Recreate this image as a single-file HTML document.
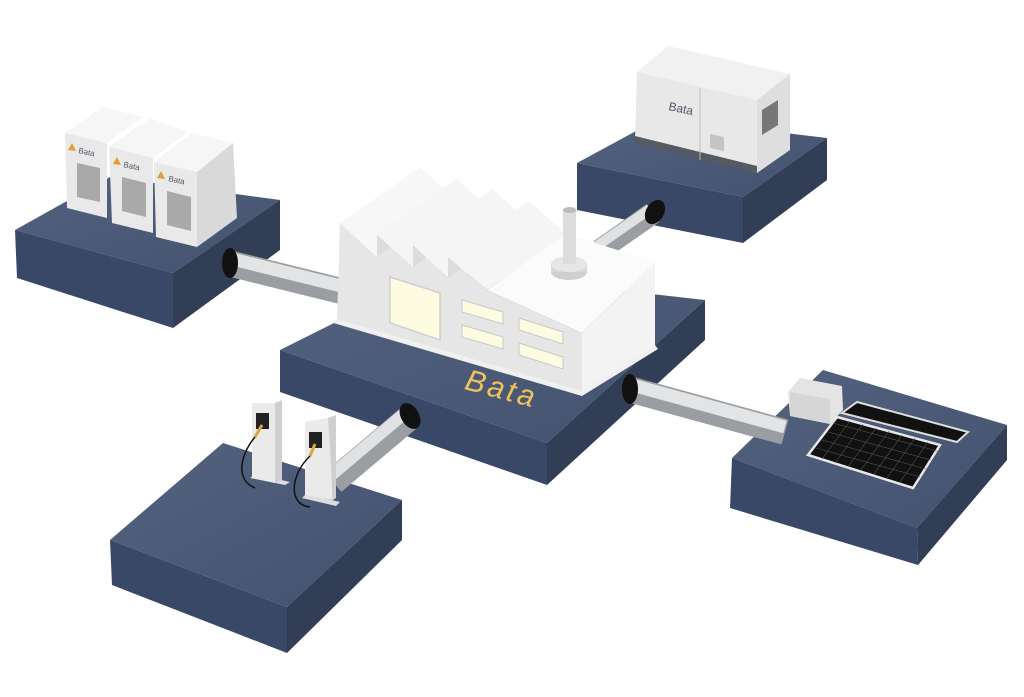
<!DOCTYPE html>
<html><head><meta charset="utf-8"><style>
html,body{margin:0;padding:0;background:#fff;}
svg{display:block}
</style></head><body>
<svg width="1024" height="697" viewBox="0 0 1024 697" xmlns="http://www.w3.org/2000/svg">
<defs>
<linearGradient id="top" x1="0" y1="0" x2="1" y2="1"><stop offset="0" stop-color="#53627f"/><stop offset="1" stop-color="#43526f"/></linearGradient>
</defs>
<!-- left platform -->
<polygon points="15,230 110,177 280,200 173,273" fill="url(#top)"/>
<polygon points="15,230 173,273 173,328 17,278" fill="#3a4868"/>
<polygon points="173,273 280,200 280,250 173,328" fill="#323d56"/>
<!-- top right platform -->
<polygon points="577,163 660,118 827,138 743,197" fill="url(#top)"/>
<polygon points="577,163 743,197 743,243 577,210" fill="#3a4868"/>
<polygon points="743,197 827,138 827,180 743,243" fill="#323d56"/>
<!-- bottom right platform -->
<polygon points="732,458 823,370 1007,425 917,528" fill="url(#top)"/>
<polygon points="732,458 917,528 918,565 730,508" fill="#3a4868"/>
<polygon points="917,528 1007,425 1007,460 918,565" fill="#323d56"/>
<!-- bottom left platform -->
<polygon points="110,540 223,443 402,500 287,607" fill="url(#top)"/>
<polygon points="110,540 287,607 287,653 112,585" fill="#3a4868"/>
<polygon points="287,607 402,500 402,540 287,653" fill="#323d56"/>
<!-- center platform -->
<polygon points="280,350 440,270 705,300 547,443" fill="url(#top)"/>
<polygon points="280,350 547,443 547,485 280,392" fill="#3a4868"/>
<polygon points="547,443 705,300 705,340 547,485" fill="#323d56"/>

<!-- pipes -->
<g stroke-linecap="butt">
<line x1="232" y1="264" x2="345" y2="292" stroke="#9a9da1" stroke-width="26"/>
<line x1="232" y1="259" x2="345" y2="287" stroke="#e2e4e5" stroke-width="13"/>
<line x1="653" y1="213" x2="600" y2="250" stroke="#9a9da1" stroke-width="22"/>
<line x1="650" y1="209" x2="597" y2="246" stroke="#dfe1e2" stroke-width="10"/>
<line x1="632" y1="390" x2="785" y2="432" stroke="#9a9da1" stroke-width="26"/>
<line x1="632" y1="385" x2="785" y2="427" stroke="#e2e4e5" stroke-width="13"/>
<line x1="410" y1="417" x2="333" y2="482" stroke="#9a9da1" stroke-width="26"/>
<line x1="405" y1="413" x2="328" y2="478" stroke="#dfe1e2" stroke-width="12"/>
</g>
<ellipse cx="230" cy="263" rx="8" ry="15" fill="#111"/>
<ellipse cx="655" cy="212" rx="9" ry="13" fill="#111" transform="rotate(30 655 212)"/>
<ellipse cx="630" cy="389" rx="8" ry="15" fill="#111"/>
<ellipse cx="410" cy="416" rx="9" ry="14" fill="#111" transform="rotate(-30 410 416)"/>

<!-- factory -->
<polygon points="337,320 340,223 377,257 377,235 413,267 413,245 448,278 448,257 487,290 582,333 582,393" fill="#e6e6e6"/>
<polygon points="340,223 420,167 457,201 377,257" fill="#f7f7f7"/>
<polygon points="377,257 377,235 457,179 457,201" fill="#dcdcdc"/>
<polygon points="377,235 457,179 493,211 413,267" fill="#f5f5f5"/>
<polygon points="413,267 413,245 493,189 493,211" fill="#dcdcdc"/>
<polygon points="413,245 493,189 528,222 448,278" fill="#f5f5f5"/>
<polygon points="448,278 448,257 528,201 528,222" fill="#dcdcdc"/>
<polygon points="448,257 528,201 567,234 487,290" fill="#f5f5f5"/>
<polygon points="487,290 582,333 655,262 567,234" fill="#fbfbfb"/>
<polygon points="582,333 655,262 655,347 582,393" fill="#f3f3f3"/>
<polygon points="330,322 582,396 658,349 655,345 582,391 337,319" fill="#f0f0f0"/>
<polygon points="390,277 440,293 440,340 390,323" fill="#fdfbe0" stroke="#cfcfcf" stroke-width="1.5"/>
<polygon points="462,300 503,312 503,324 462,312" fill="#fdfbe0" stroke="#c8c8c8"/>
<polygon points="462,325 503,337 503,349 462,337" fill="#fdfbe0" stroke="#c8c8c8"/>
<polygon points="519,318 563,332 563,344 519,330" fill="#fdfbe0" stroke="#c8c8c8"/>
<polygon points="519,343 563,357 563,369 519,355" fill="#fdfbe0" stroke="#c8c8c8"/>
<!-- chimney -->
<ellipse cx="569" cy="272" rx="18" ry="8" fill="#cfcfcf"/>
<rect x="551" y="264" width="36" height="8" fill="#d8d8d8"/>
<ellipse cx="569" cy="264" rx="18" ry="8" fill="#e6e6e6"/>
<rect x="563" y="210" width="13" height="54" fill="#dcdcdc"/>
<ellipse cx="569.5" cy="210" rx="6.5" ry="3" fill="#bbb"/>
<text x="462" y="400" font-family="Liberation Sans, sans-serif" font-size="30" font-style="italic" fill="#f1c25b" transform="rotate(15 505 400)" letter-spacing="3">Bata</text>

<!-- battery cabinets -->
<g>
<polygon points="65,133 103,107 143,117 107,143" fill="#f6f6f6"/>
<polygon points="65,133 107,143 107,218 67,208" fill="#e9e9e9"/>
<polygon points="109,147 150,118 188,132 153,158" fill="#f6f6f6"/>
<polygon points="109,147 153,158 153,233 112,223" fill="#e9e9e9"/>
<polygon points="154,162 192,133 233,143 197,172" fill="#f6f6f6"/>
<polygon points="154,162 197,172 197,247 156,237" fill="#e9e9e9"/>
<polygon points="197,172 233,143 237,218 197,247" fill="#d9d9d9"/>
<polygon points="77,163 100,168 100,202 77,197" fill="#a9a9a9"/>
<polygon points="122,177 146,183 146,217 122,211" fill="#a9a9a9"/>
<polygon points="167,191 191,197 191,231 167,225" fill="#a9a9a9"/>
<polygon points="68,150 72,143 76,151" fill="#e0a030"/>
<polygon points="113,164 117,157 121,165" fill="#e0a030"/>
<polygon points="157,178 161,171 165,179" fill="#e0a030"/>
<text x="78" y="153" font-family="Liberation Sans, sans-serif" font-size="8" fill="#556" transform="rotate(12 78 153)">Bata</text>
<text x="123" y="167" font-family="Liberation Sans, sans-serif" font-size="8" fill="#556" transform="rotate(12 123 167)">Bata</text>
<text x="168" y="181" font-family="Liberation Sans, sans-serif" font-size="8" fill="#556" transform="rotate(12 168 181)">Bata</text>
</g>

<!-- generator -->
<polygon points="637,72 668,46 790,74 757,100" fill="#f1f1f1"/>
<polygon points="637,72 757,100 757,173 635,140" fill="#e8e8e8"/>
<polygon points="757,100 790,74 790,150 757,173" fill="#dedede"/>
<polygon points="635,136 757,166 757,173 635,143" fill="#555a63"/>
<polygon points="762,110 778,100 778,125 762,135" fill="#777"/>
<rect x="710" y="130" width="14" height="14" fill="#c4c4c4" transform="skewY(13) translate(0,-160)"/>
<line x1="700" y1="88" x2="700" y2="160" stroke="#bbb"/>
<text x="668" y="110" font-family="Liberation Sans, sans-serif" font-size="12" fill="#556" transform="rotate(12 668 110)">Bata</text>

<!-- solar -->
<polygon points="788,392 800,378 842,386 843,410 830,424 790,416" fill="#e4e4e4"/>
<polygon points="790,392 830,399 830,424 790,416" fill="#d6d6d6"/>
<polygon points="857,402 968,432 957,442 842,413" fill="#111" stroke="#ddd" stroke-width="2"/>
<polygon points="837,417 940,445 913,488 808,455" fill="#111" stroke="#e8e8e8" stroke-width="2.5"/>
<g stroke="#555" stroke-width="0.6">
<line x1="833" y1="423" x2="937" y2="451"/><line x1="828" y1="432" x2="931" y2="460"/><line x1="822" y1="440" x2="926" y2="469"/><line x1="816" y1="448" x2="920" y2="477"/>
<line x1="850" y1="421" x2="822" y2="459"/><line x1="863" y1="424" x2="835" y2="463"/><line x1="876" y1="428" x2="848" y2="467"/><line x1="889" y1="431" x2="861" y2="470"/><line x1="902" y1="435" x2="874" y2="474"/><line x1="915" y1="438" x2="887" y2="478"/><line x1="928" y1="442" x2="900" y2="482"/>
</g>

<!-- chargers -->
<polygon points="250,478 285,485 290,482 255,474" fill="#ddd"/>
<polygon points="252,403 275,403 275,483 252,478" fill="#eaeaea"/>
<polygon points="275,403 282,400 282,480 275,483" fill="#cfcfcf"/>
<rect x="256" y="413" width="13" height="16" fill="#222"/>
<line x1="262" y1="425" x2="255" y2="437" stroke="#d9a93a" stroke-width="3"/>
<path d="M255 437 C240 455 235 480 255 488" stroke="#111" stroke-width="1.5" fill="none"/>
<polygon points="302,498 336,506 340,502 306,494" fill="#ddd"/>
<polygon points="305,422 328,418 333,500 305,495" fill="#eaeaea"/>
<polygon points="328,418 336,415 336,498 333,500" fill="#cfcfcf"/>
<rect x="309" y="432" width="13" height="16" fill="#222"/>
<line x1="315" y1="444" x2="310" y2="456" stroke="#d9a93a" stroke-width="3"/>
<path d="M310 456 C290 475 288 505 310 507" stroke="#111" stroke-width="1.5" fill="none"/>
</svg>
</body></html>
